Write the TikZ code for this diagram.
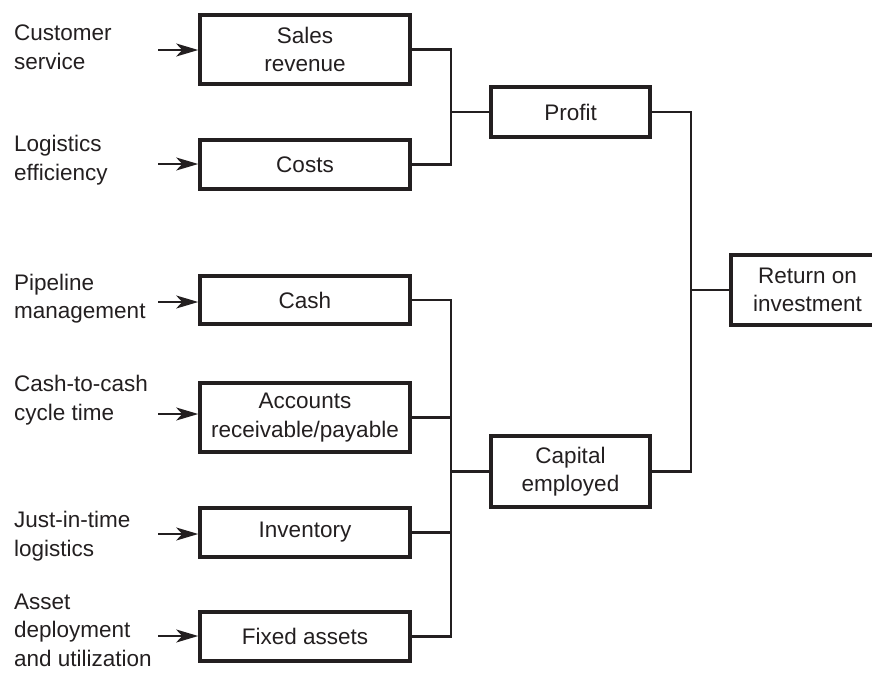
\documentclass[tikz,border=0pt]{standalone}
\usepackage{fontspec}
\setmainfont{Liberation Sans}
\usetikzlibrary{arrows.meta}
\definecolor{ink}{HTML}{231F20}
\begin{document}
\begin{tikzpicture}[x=1pt,y=-1pt,
  every node/.style={text=ink, font=\fontsize{22.5}{28.5}\selectfont},
  box/.style={draw=ink, line width=3.6pt, fill=white, align=center, inner sep=0pt},
  lbl/.style={anchor=west, align=left, inner sep=0pt},
  conn/.style={draw=ink, line width=2.1pt},
  arr/.style={draw=ink, line width=2.1pt, -{Stealth[length=22pt,width=13pt,inset=6pt]}}]
\useasboundingbox (0,0) rectangle (872,672);
% boxes
\node[box, minimum width=210pt, minimum height=69pt] (sales) at (305,49.5) {Sales\\revenue};
\node[box, minimum width=210pt, minimum height=49pt] (costs) at (305,164.5) {Costs};
\node[box, minimum width=210pt, minimum height=48pt] (cash) at (305,300) {Cash};
\node[box, minimum width=210pt, minimum height=69pt] (acc) at (305,417.5) {Accounts\\receivable/payable};
\node[box, minimum width=210pt, minimum height=49pt] (inv) at (305,532.5) {Inventory};
\node[box, minimum width=210pt, minimum height=49pt] (fixed) at (305,636.5) {Fixed assets};
\node[box, minimum width=159pt, minimum height=50pt] (profit) at (570.5,112) {Profit};
\node[box, minimum width=159pt, minimum height=71pt] (capital) at (570.5,471.5) {Capital\\employed};
\node[box, minimum width=153pt, minimum height=70pt] (roi) at (807.5,290) {Return on\\investment};
% labels
\node[lbl] (l1) at (14,47.5) {Customer\\service};
\node[lbl] (l2) at (14,160) {Logistics\\efficiency};
\node[lbl] (l3) at (14,298.5) {Pipeline\\management};
\node[lbl] (l4) at (14,400) {Cash-to-cash\\cycle time};
\node[lbl] (l5) at (14,536) {Just-in-time\\logistics};
\node[lbl] (l6) at (14,630) {Asset\\deployment\\and utilization};
% arrow tails
\coordinate (a1) at (158,50);
\coordinate (a2) at (158,164);
\coordinate (a3) at (158,302);
\coordinate (a4) at (158,414);
\coordinate (a5) at (158,534);
\coordinate (a6) at (158,636);
\draw[arr] (a1) -- (a1 -| sales.west);
\draw[arr] (a2) -- (a2 -| costs.west);
\draw[arr] (a3) -- (a3 -| cash.west);
\draw[arr] (a4) -- (a4 -| acc.west);
\draw[arr] (a5) -- (a5 -| inv.west);
\draw[arr] (a6) -- (a6 -| fixed.west);
% junctions
\coordinate (j1) at (451,112);
\coordinate (j2) at (451,471.5);
\coordinate (j3) at (691,290);
\draw[conn] (sales.east) -| (j1) -- (profit.west);
\draw[conn] (costs.east) -| (j1);
\draw[conn] (cash.east) -| (j2) -- (capital.west);
\draw[conn] (acc.east) -| (j2);
\draw[conn] (inv.east) -| (j2);
\draw[conn] (fixed.east) -| (j2);
\draw[conn] (profit.east) -| (j3) -- (roi.west);
\draw[conn] (capital.east) -| (j3);
\end{tikzpicture}
\end{document}
